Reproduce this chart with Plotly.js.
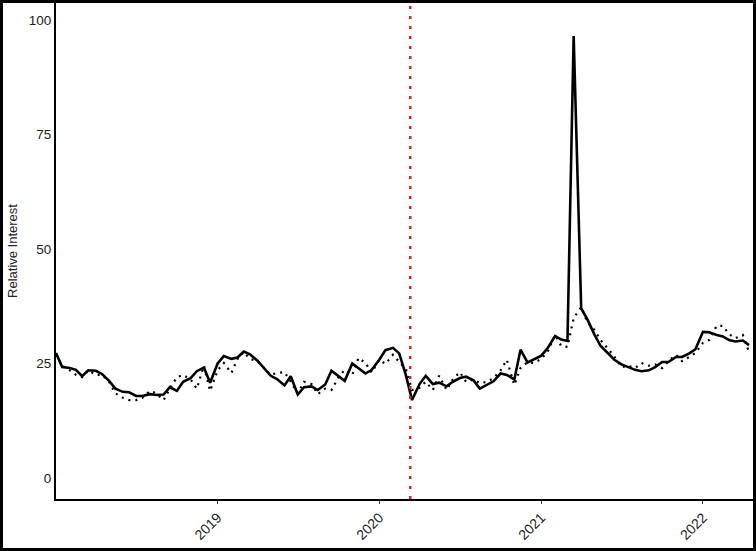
<!DOCTYPE html>
<html>
<head>
<meta charset="utf-8">
<script src="https://cdn.plot.ly/plotly-3.0.1.min.js"></script>
<style>
  html, body { margin: 0; padding: 0; background: #fff; }
  #wrap { position: relative; width: 756px; height: 551px; }
  #chart { position: absolute; left: 0; top: 0; width: 756px; height: 551px; }
  #frame { position: absolute; left: 0; top: 0; width: 756px; height: 551px; box-sizing: border-box; border: 3px solid #000; pointer-events: none; }
</style>
</head>
<body>
<div id="wrap"><div id="chart"></div><div id="frame"></div></div>
<script>
// Dates (semi-monthly)
const dates = [
  "2018-01-01","2018-01-15","2018-02-01","2018-02-15","2018-03-01","2018-03-15","2018-04-01","2018-04-15","2018-05-01","2018-05-15","2018-06-01","2018-06-15",
  "2018-07-01","2018-07-15","2018-08-01","2018-08-15","2018-09-01","2018-09-15","2018-10-01","2018-10-15","2018-11-01","2018-11-15","2018-12-01","2018-12-15",
  "2019-01-01","2019-01-15","2019-02-01","2019-02-15","2019-03-01","2019-03-15","2019-04-01","2019-04-15","2019-05-01","2019-05-15","2019-06-01","2019-06-15",
  "2019-07-01","2019-07-15","2019-08-01","2019-08-15","2019-09-01","2019-09-15","2019-10-01","2019-10-15","2019-11-01","2019-11-15","2019-12-01","2019-12-15",
  "2020-01-01","2020-01-15","2020-02-01","2020-02-15","2020-03-01","2020-03-15","2020-04-01","2020-04-15","2020-05-01","2020-05-15","2020-06-01","2020-06-15",
  "2020-07-01","2020-07-15","2020-08-01","2020-08-15","2020-09-01","2020-09-15","2020-10-01","2020-10-15","2020-11-01","2020-11-15","2020-12-01","2020-12-15",
  "2021-01-01","2021-01-15","2021-02-01","2021-02-15","2021-03-01","2021-03-15","2021-04-01","2021-04-15","2021-05-01","2021-05-15","2021-06-01","2021-06-15",
  "2021-07-01","2021-07-15","2021-08-01","2021-08-15","2021-09-01","2021-09-15","2021-10-01","2021-10-15","2021-11-01","2021-11-15","2021-12-01","2021-12-15",
  "2022-01-01","2022-01-15","2022-02-01","2022-02-15","2022-03-01","2022-03-15","2022-04-01","2022-04-15"
];

// Solid series
const solidValues = [
  27.3, 24.2, 24.0, 23.6, 22.2, 23.5, 23.4, 22.7, 21.2, 19.5, 18.8, 18.7, 17.9, 17.9, 18.3, 18.1, 18.2, 19.8, 19.0, 21.0, 21.8, 23.3, 24.1, 20.8,
  25.0, 26.6, 26.0, 26.3, 27.6, 27.0, 25.6, 24.0, 22.3, 21.6, 20.2, 22.2, 18.2, 19.8, 20.0, 19.2, 20.4, 23.4, 22.3, 21.2, 25.0, 24.0, 22.8, 23.6,
  25.8, 27.9, 28.4, 27.2, 22.5, 17.0, 20.5, 22.3, 20.5, 20.8, 20.0, 21.0, 21.8, 22.1, 21.3, 19.5, 20.3, 21.1, 22.8, 22.5, 21.5, 28.0, 25.2, 25.9,
  26.7, 28.3, 31.0, 30.2, 29.9, 96.5, 37.0, 34.6, 31.3, 28.8, 27.2, 25.8, 24.8, 24.3, 23.6, 23.3, 23.5, 24.2, 25.3, 25.3, 26.4, 26.4, 27.2, 28.1,
  31.9, 31.8, 31.2, 30.9, 30.1, 29.8, 30.0, 29.0
];

// Dotted series
const dottedValues = [
  27.0, 24.5, 23.5, 22.5, 22.0, 23.5, 22.5, 22.5, 21.0, 18.5, 17.5, 17.0, 17.0, 17.5, 19.0, 18.5, 17.0, 19.5, 22.0, 22.5, 21.5, 19.5, 24.5, 19.0,
  23.5, 25.1, 22.9, 26.0, 27.5, 26.0, 25.5, 24.0, 22.5, 22.9, 23.1, 21.0, 18.5, 21.0, 20.5, 18.3, 19.5, 19.2, 22.0, 23.6, 22.5, 26.2, 25.1, 23.0,
  25.8, 24.9, 26.9, 25.3, 23.8, 19.2, 19.7, 21.0, 19.2, 22.3, 19.2, 21.5, 23.1, 21.0, 21.5, 20.7, 21.0, 21.8, 23.5, 25.8, 20.3, 24.0, 25.3, 25.1,
  26.0, 27.5, 31.2, 28.8, 28.6, 34.9, 37.3, 34.0, 32.3, 30.1, 28.0, 26.5, 24.2, 24.5, 24.0, 25.1, 24.5, 24.8, 24.0, 25.5, 26.9, 25.5, 26.4, 27.3,
  29.5, 30.1, 33.2, 33.2, 31.4, 30.5, 31.2, 27.5
];

const eventDate = "2020-03-11";
const yTicks = [0, 25, 50, 75, 100];
const xTickVals = ["2019-01-01", "2020-01-01", "2021-01-01", "2022-01-01"];
const xTickText = ["2019", "2020", "2021", "2022"];

const traces = [
  { x: dates, y: dottedValues, type: "scatter", mode: "lines",
    line: { color: "#000", width: 2.2, dash: "2px,5px" }, hoverinfo: "skip" },
  { x: dates, y: solidValues, type: "scatter", mode: "lines",
    line: { color: "#000", width: 2.6 }, hoverinfo: "skip" }
];

const layout = {
  width: 756, height: 551,
  margin: { l: 56, r: 3, t: 3, b: 52 },
  paper_bgcolor: "#fff", plot_bgcolor: "#fff",
  showlegend: false,
  font: { family: "Liberation Sans, Arial, sans-serif", color: "#222" },
  xaxis: {
    type: "date",
    range: ["2018-01-01", "2022-04-24"],
    tickvals: xTickVals, ticktext: xTickText,
    tickangle: -45, tickfont: { size: 14, color: "#222" },
    ticks: "outside", ticklen: 3, tickcolor: "#333",
    showgrid: false, zeroline: false,
    showline: true, linecolor: "#000", linewidth: 2
  },
  yaxis: {
    range: [-4.6, 103.7],
    tickvals: yTicks,
    tickfont: { size: 13.5, color: "#222" },
    ticks: "", showgrid: false, zeroline: false,
    showline: true, linecolor: "#000", linewidth: 2,
    title: { text: "Relative Interest", font: { size: 13, color: "#222" }, standoff: 8 }
  },
  shapes: [
    { type: "line", xref: "x", yref: "paper", x0: eventDate, x1: eventDate, y0: 0, y1: 1,
      line: { color: "#d02828", width: 2.5, dash: "3px,7px" } }
  ]
};

Plotly.newPlot("chart", traces, layout, { staticPlot: true, displayModeBar: false });
</script>
</body>
</html>
